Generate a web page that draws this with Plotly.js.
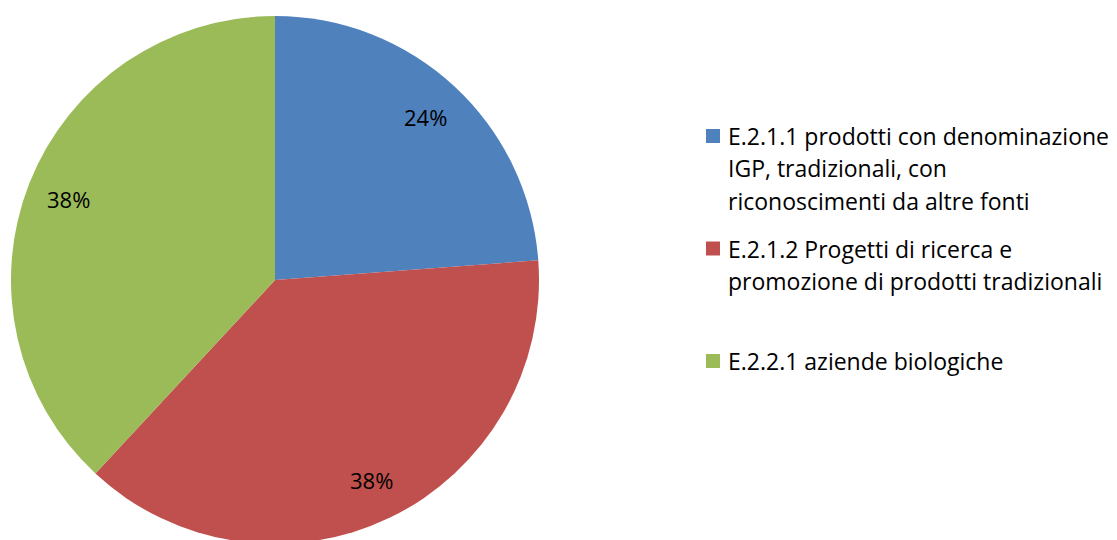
<!DOCTYPE html>
<html>
<head>
<meta charset="utf-8">
<script src="https://cdn.plot.ly/plotly-3.0.1.min.js"></script>
<style>
  html, body { margin: 0; padding: 0; overflow: hidden; background: #fff; }
  #chart { width: 1117px; height: 560px; }
</style>
</head>
<body>
<div id="chart"></div>
<script>
// ---- data ----
const categories = [
  "E.2.1.1 prodotti con denominazione IGP, tradizionali, con riconoscimenti da altre fonti",
  "E.2.1.2 Progetti di ricerca e promozione di prodotti tradizionali",
  "E.2.2.1 aziende biologiche"
];
const legendLines = [
  ["E.2.1.1 prodotti con denominazione", "IGP, tradizionali, con", "riconoscimenti da altre fonti"],
  ["E.2.1.2 Progetti di ricerca e", "promozione di prodotti tradizionali"],
  ["E.2.2.1 aziende biologiche"]
];
const values = [5, 8, 8];
const colors = ["#4F81BD", "#C0504D", "#9BBB59"];

// ---- layout geometry (pixels) ----
const W = 1117, H = 560;
const CX = 275, CY = 280, R = 264;
const FONT = "'Open Sans', Lato, sans-serif";
const FS_LEG = 23;
const FS_PCT = 22;
const px = x => x / W;
const py = y => 1 - y / H;

const total = values.reduce((a, b) => a + b, 0);
const annotations = [];
const shapes = [];

// percentage labels placed along each slice's mid angle
let cum = 0;
values.forEach((v, i) => {
  const mid = (cum + v / 2) / total * 2 * Math.PI;
  cum += v;
  const rr = 0.84 * R;
  annotations.push({
    xref: "paper", yref: "paper",
    x: px(CX + rr * Math.sin(mid)), y: py(CY - rr * Math.cos(mid)),
    xanchor: "center", yanchor: "middle", showarrow: false,
    text: Math.round(v / total * 100) + "%",
    font: { family: FONT, size: FS_PCT, color: "#000" }
  });
});

// legend
const LEG_X = 706, SQ = 14, TXT_X = 726, FIRST_Y = 136, SLOT = 112.5, LINE = 32.5;
legendLines.forEach((lines, i) => {
  const y0 = FIRST_Y + i * SLOT;
  shapes.push({
    type: "rect", xref: "paper", yref: "paper",
    x0: px(LEG_X), x1: px(LEG_X + SQ), y0: py(y0 - SQ / 2), y1: py(y0 + SQ / 2),
    fillcolor: colors[i], line: { width: 0 }
  });
  lines.forEach((t, j) => {
    annotations.push({
      xref: "paper", yref: "paper",
      x: px(TXT_X), y: py(y0 + j * LINE),
      xanchor: "left", yanchor: "middle", showarrow: false,
      text: t, font: { family: FONT, size: FS_LEG, color: "#000" }
    });
  });
});

const trace = {
  type: "pie",
  labels: categories,
  values: values,
  sort: false,
  direction: "clockwise",
  rotation: 0,
  marker: { colors: colors, line: { width: 0 } },
  textinfo: "none",
  hoverinfo: "none",
  showlegend: false,
  domain: { x: [px(CX - R), px(CX + R)], y: [py(CY + R), py(CY - R)] }
};

const layout = {
  width: W, height: H,
  margin: { l: 0, r: 0, t: 0, b: 0 },
  paper_bgcolor: "#fff",
  plot_bgcolor: "#fff",
  showlegend: false,
  annotations: annotations,
  shapes: shapes
};

Plotly.newPlot("chart", [trace], layout, { displayModeBar: false, staticPlot: true });
</script>
</body>
</html>
